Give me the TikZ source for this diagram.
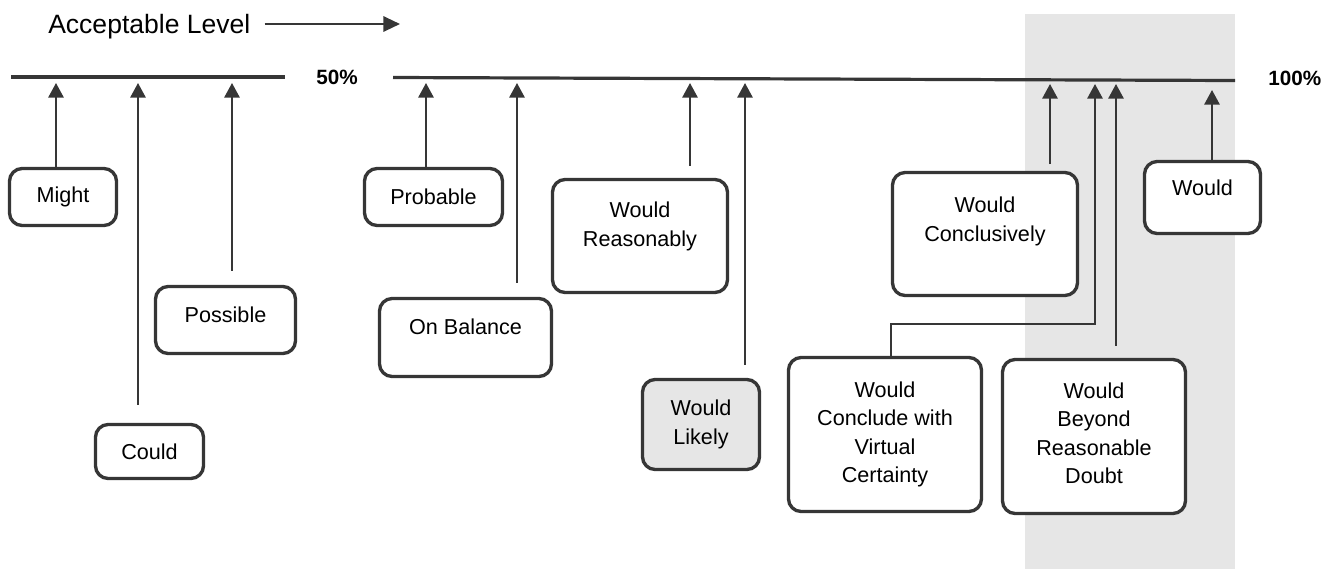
\documentclass[tikz,border=0pt]{standalone}
\usepackage{fontspec}
\setmainfont{Liberation Sans}
\usepackage{xcolor}
\usetikzlibrary{arrows.meta}

\definecolor{inkgray}{HTML}{363636}
\definecolor{bandgray}{HTML}{E6E6E6}

\begin{document}
\begin{tikzpicture}[x=0.75pt, y=-0.75pt,
    box/.style={draw=inkgray, fill=white, line width=2.5pt, rounded corners=9.5pt, align=center,
        inner sep=0pt, font=\fontsize{16.2pt}{21.3pt}\selectfont},
    boxsize/.style 2 args={minimum width=#1*0.75pt, minimum height=#2*0.75pt},
    lift/.style={text depth=#1},
    >={Triangle[length=11pt, width=11.5pt]},
    link/.style={->, draw=inkgray, line width=1.5pt},
    scaleline/.style={draw=inkgray, line width=2.4pt},
    percent/.style={anchor=base west, inner sep=0pt, font=\fontsize{15.5pt}{18pt}\selectfont\bfseries}]

    \useasboundingbox (0,0) rectangle (1336,569);

    \fill[bandgray] (1025,14) rectangle (1235,569);

    \node[anchor=west, inner sep=0pt, text height=14.2pt, text depth=0pt,
        font=\fontsize{19.9pt}{24pt}\selectfont] (level) at (48,24) {Acceptable Level};
    \coordinate (levelend) at (400,24);
    \draw[->, draw=inkgray, line width=1.6pt, >={Triangle[length=12.5pt, width=11.5pt]}]
        ([xshift=10.5pt]level.east) -- (levelend);

    \coordinate (lowstart) at (11,77);
    \coordinate (lowend) at (285,77);
    \coordinate (highstart) at (393,77.5);
    \coordinate (highend) at (1235,80.5);
    \draw[scaleline] (lowstart) -- (lowend);
    \draw[scaleline] (highstart) -- (highend);

    \node[percent] (fifty) at (316,84.5) {50\%};
    \node[percent] (hundred) at (1268,85.5) {100\%};

    \node[box, boxsize={107}{57}] (might) at (63,197) {Might};

    \node[box, boxsize={108}{54}] (could) at (149.5,451.5) {Could};

    \node[box, boxsize={140}{67}, lift=7.5pt] (possible) at (225.5,320) {Possible};

    \node[box, boxsize={138}{57}] (probable) at (433.5,197) {Probable};

    \node[box, boxsize={172}{78}, lift=15.75pt] (balance) at (465.5,337.5) {On Balance};

    \node[box, boxsize={175}{113}, lift=18pt] (reasonably) at (640,236) {Would\\Reasonably};

    \node[box, boxsize={117}{90}, fill=bandgray] (likely) at (701,424.5) {Would\\Likely};

    \node[box, boxsize={185}{123}, lift=22.5pt] (conclusively) at (985,234) {Would\\Conclusively};

    \node[box, boxsize={116}{72}, lift=14.25pt] (would) at (1202.5,197.5) {Would};

    \node[box, boxsize={193}{154}] (certainty) at (885,434.5) {Would\\Conclude with\\Virtual\\Certainty};

    \node[box, boxsize={183}{154}, lift=5pt] (doubt) at (1094,436.5) {Would\\Beyond\\Reasonable\\Doubt};

    \coordinate (mightend) at (56,83);
    \coordinate (couldend) at (138,83);
    \coordinate (possibleend) at (232,83);
    \coordinate (probableend) at (426,83);
    \coordinate (balanceend) at (517,83);
    \coordinate (reasonablyend) at (690,83);
    \coordinate (likelyend) at (745,83);
    \coordinate (conclusivelyend) at (1050,84);
    \coordinate (certaintyend) at (1095,84);
    \coordinate (certaintyjoin) at (1095,324);
    \coordinate (doubtend) at (1116,84);
    \coordinate (wouldend) at (1212,90);

    \draw[link] (might.north -| mightend) -- (mightend);

    \draw[link] ([yshift=13.5pt]could.north -| couldend) -- (couldend);

    \draw[link] ([yshift=10.5pt]possible.north -| possibleend) -- (possibleend);

    \draw[link] (probable.north -| probableend) -- (probableend);

    \draw[link] ([yshift=10.5pt]balance.north -| balanceend) -- (balanceend);

    \draw[link] ([yshift=9pt]reasonably.north -| reasonablyend) -- (reasonablyend);

    \draw[link] ([yshift=9.75pt]likely.north -| likelyend) -- (likelyend);

    \draw[link] ([yshift=5pt]conclusively.north -| conclusivelyend) -- (conclusivelyend);

    \draw[link] ([xshift=4.5pt]certainty.north) |- (certaintyjoin) -- (certaintyend);

    \draw[link] ([yshift=9pt]doubt.north -| doubtend) -- (doubtend);

    \draw[link] (would.north -| wouldend) -- (wouldend);
\end{tikzpicture}
\end{document}
